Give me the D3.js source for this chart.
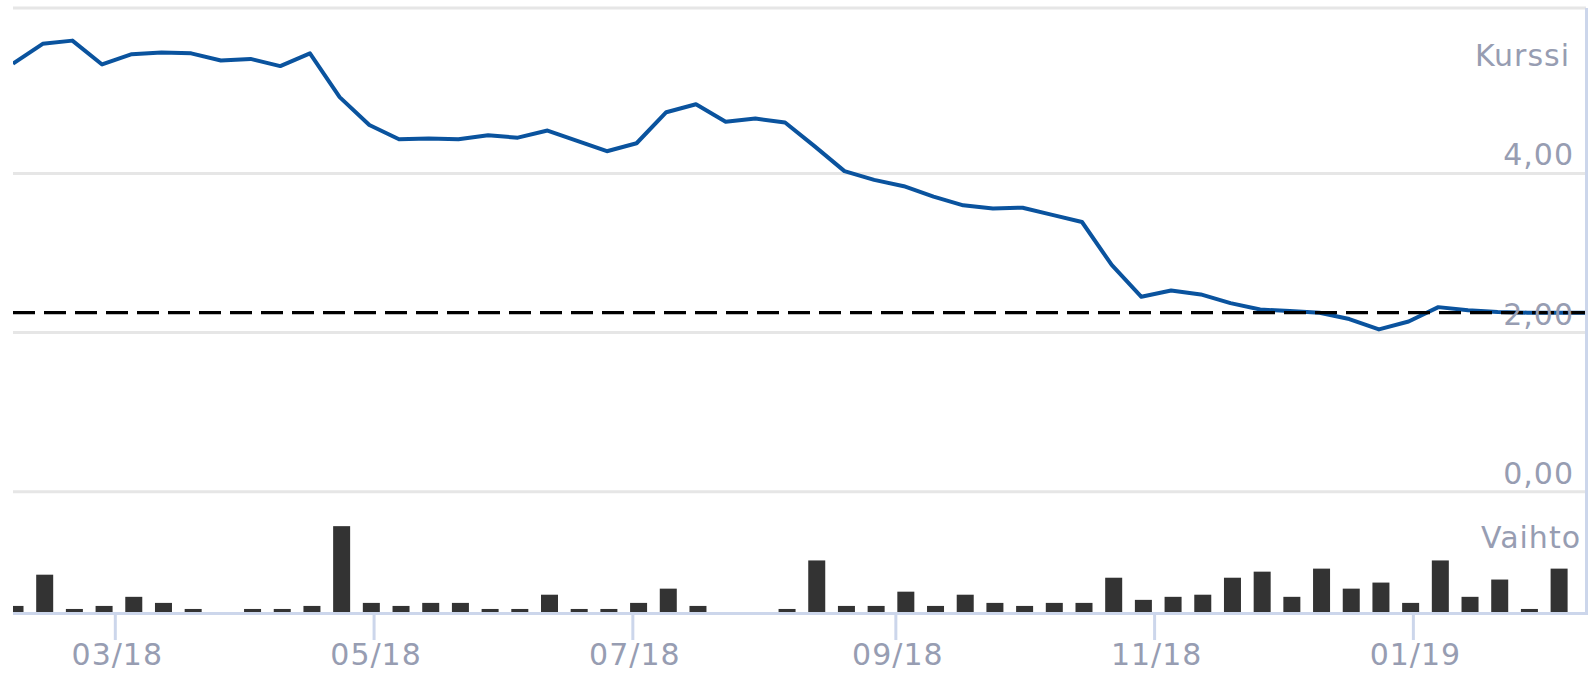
<!DOCTYPE html>
<html>
<head>
<meta charset="utf-8">
<script src="https://cdn.jsdelivr.net/npm/d3@7"></script>
<style>
  body { margin: 0; background: #fff; }
  .lbl { font-family: "DejaVu Sans", sans-serif; font-size: 30px; fill: #979db2; letter-spacing: 1px; }
</style>
</head>
<body>
<div id="chart"></div>
<script>
/*******************************************************
 *                    CHART DATA                       *
 ******************************************************/

// weekly dates (mondays)
var dates = [
  "2018-02-05","2018-02-12","2018-02-19","2018-02-26","2018-03-05","2018-03-12","2018-03-19","2018-03-26",
  "2018-04-02","2018-04-09","2018-04-16","2018-04-23","2018-04-30","2018-05-07","2018-05-14","2018-05-21",
  "2018-05-28","2018-06-04","2018-06-11","2018-06-18","2018-06-25","2018-07-02","2018-07-09","2018-07-16",
  "2018-07-23","2018-07-30","2018-08-06","2018-08-13","2018-08-20","2018-08-27","2018-09-03","2018-09-10",
  "2018-09-17","2018-09-24","2018-10-01","2018-10-08","2018-10-15","2018-10-22","2018-10-29","2018-11-05",
  "2018-11-12","2018-11-19","2018-11-26","2018-12-03","2018-12-10","2018-12-17","2018-12-24","2018-12-31",
  "2019-01-07","2019-01-14","2019-01-21","2019-01-28","2019-02-04","2019-02-11"
];

// kurssi (price)
var kurssi = [
  5.38, 5.63, 5.67, 5.37, 5.50, 5.52, 5.51, 5.42, 5.44, 5.35,
  5.51, 4.96, 4.61, 4.43, 4.44, 4.43, 4.48, 4.45, 4.54, 4.41,
  4.28, 4.38, 4.77, 4.87, 4.65, 4.69, 4.64, 4.34, 4.03, 3.92,
  3.84, 3.71, 3.60, 3.56, 3.57, 3.48, 3.39, 2.85, 2.45, 2.53,
  2.48, 2.37, 2.29, 2.27, 2.25, 2.17, 2.04, 2.14, 2.32, 2.28,
  2.26, 2.25, 2.25, 2.25
];

// vaihto (volume, relative units)
var vaihto = [
  2, 12.3, 1, 2, 5, 3, 1, 0, 1, 1,
  2, 28.3, 3, 2, 3, 3, 1, 1, 5.7, 1,
  1, 3, 7.7, 2, 0, 0, 1, 17, 2, 2,
  6.7, 2, 5.7, 3, 2, 3, 3, 11.3, 4, 5,
  5.7, 11.3, 13.3, 5, 14.3, 7.7, 9.7, 3, 17, 5,
  10.7, 1, 14.3, 0
];

var yTicks = [0, 2, 4];
var xTicks = ["2018-03-01", "2018-05-01", "2018-07-01", "2018-09-01", "2018-11-01", "2019-01-01"];
var refLevel = 2.25; // dashed line

/*******************************************************
 *                    BUILD CHART                      *
 ******************************************************/
var width = 1588, height = 674;
var left = 13, right = 1586;

var parseDate = d3.timeParse("%Y-%m-%d");
var formatTick = d3.timeFormat("%m/%y");

var data = dates.map(function(d, i) {
  return { date: parseDate(d), price: kurssi[i], vol: vaihto[i] };
});

var x = d3.scaleTime()
          .domain([data[0].date, data[data.length - 1].date])
          .range([left, 1586.8]);

var y = d3.scaleLinear()
          .domain([0, 6.08])
          .range([491.7, 8]);

var yVol = d3.scaleLinear()
             .domain([0, 30])
             .range([612, 521]);

var svg = d3.select("#chart").append("svg")
            .attr("width", width)
            .attr("height", height);

svg.append("clipPath").attr("id", "plot")
   .append("rect")
   .attr("x", left).attr("y", 0)
   .attr("width", right - left).attr("height", height);

// gridlines
svg.selectAll(".grid")
   .data(yTicks.concat([6.08]))
   .enter().append("line")
   .attr("x1", left).attr("x2", right)
   .attr("y1", function(d) { return y(d) })
   .attr("y2", function(d) { return y(d) })
   .attr("stroke", "#e6e6e6")
   .attr("stroke-width", 3);

// volume bars
svg.append("g")
   .attr("clip-path", "url(#plot)")
   .selectAll("rect")
   .data(data.filter(function(d) { return d.vol > 0 }))
   .enter().append("rect")
   .attr("x", function(d) { return x(d.date) + 2 - 8.5 })
   .attr("width", 17)
   .attr("y", function(d) { return yVol(d.vol) })
   .attr("height", function(d) { return yVol(0) - yVol(d.vol) })
   .attr("fill", "#333333");

// price line
var line = d3.line()
             .x(function(d) { return x(d.date) })
             .y(function(d) { return y(d.price) });

svg.append("path")
   .datum(data)
   .attr("clip-path", "url(#plot)")
   .attr("d", line)
   .attr("fill", "none")
   .attr("stroke", "#0a539e")
   .attr("stroke-width", 4)
   .attr("stroke-linejoin", "round");

// dashed reference line
svg.append("line")
   .attr("x1", left).attr("x2", width)
   .attr("y1", y(refLevel)).attr("y2", y(refLevel))
   .attr("stroke", "#000")
   .attr("stroke-width", 3.3)
   .attr("stroke-dasharray", "22 9");

// x axis
var xAxis = svg.append("g")
               .attr("transform", "translate(0,613)")
               .call(d3.axisBottom(x)
                 .tickValues(xTicks.map(parseDate))
                 .tickFormat(formatTick)
                 .tickSize(27));

xAxis.select(".domain").remove();
xAxis.selectAll(".tick line")
     .attr("stroke", "#ccd6eb")
     .attr("stroke-width", 3);
xAxis.selectAll(".tick text")
     .attr("class", "lbl")
     .attr("y", 52).attr("dy", 0)
     .attr("dx", 2)
     .attr("font-size", null).attr("font-family", null).attr("fill", null);

svg.append("line")
   .attr("x1", left).attr("x2", right)
   .attr("y1", 613.5).attr("y2", 613.5)
   .attr("stroke", "#ccd6eb")
   .attr("stroke-width", 3);

// right border
svg.append("line")
   .attr("x1", right + 0.5).attr("x2", right + 0.5)
   .attr("y1", 8).attr("y2", 615)
   .attr("stroke", "#ccd6eb")
   .attr("stroke-width", 3);

// y labels
svg.selectAll(".ylbl")
   .data(yTicks)
   .enter().append("text")
   .attr("class", "lbl")
   .attr("x", 1574)
   .attr("y", function(d) { return y(d) - 8 })
   .attr("text-anchor", "end")
   .text(function(d) { return d3.format(".2f")(d).replace(".", ",") });

svg.append("text").attr("class", "lbl")
   .attr("x", 1570).attr("y", 66)
   .attr("text-anchor", "end")
   .text("Kurssi");

svg.append("text").attr("class", "lbl")
   .attr("x", 1581).attr("y", 548)
   .attr("text-anchor", "end")
   .text("Vaihto");
</script>
</body>
</html>
